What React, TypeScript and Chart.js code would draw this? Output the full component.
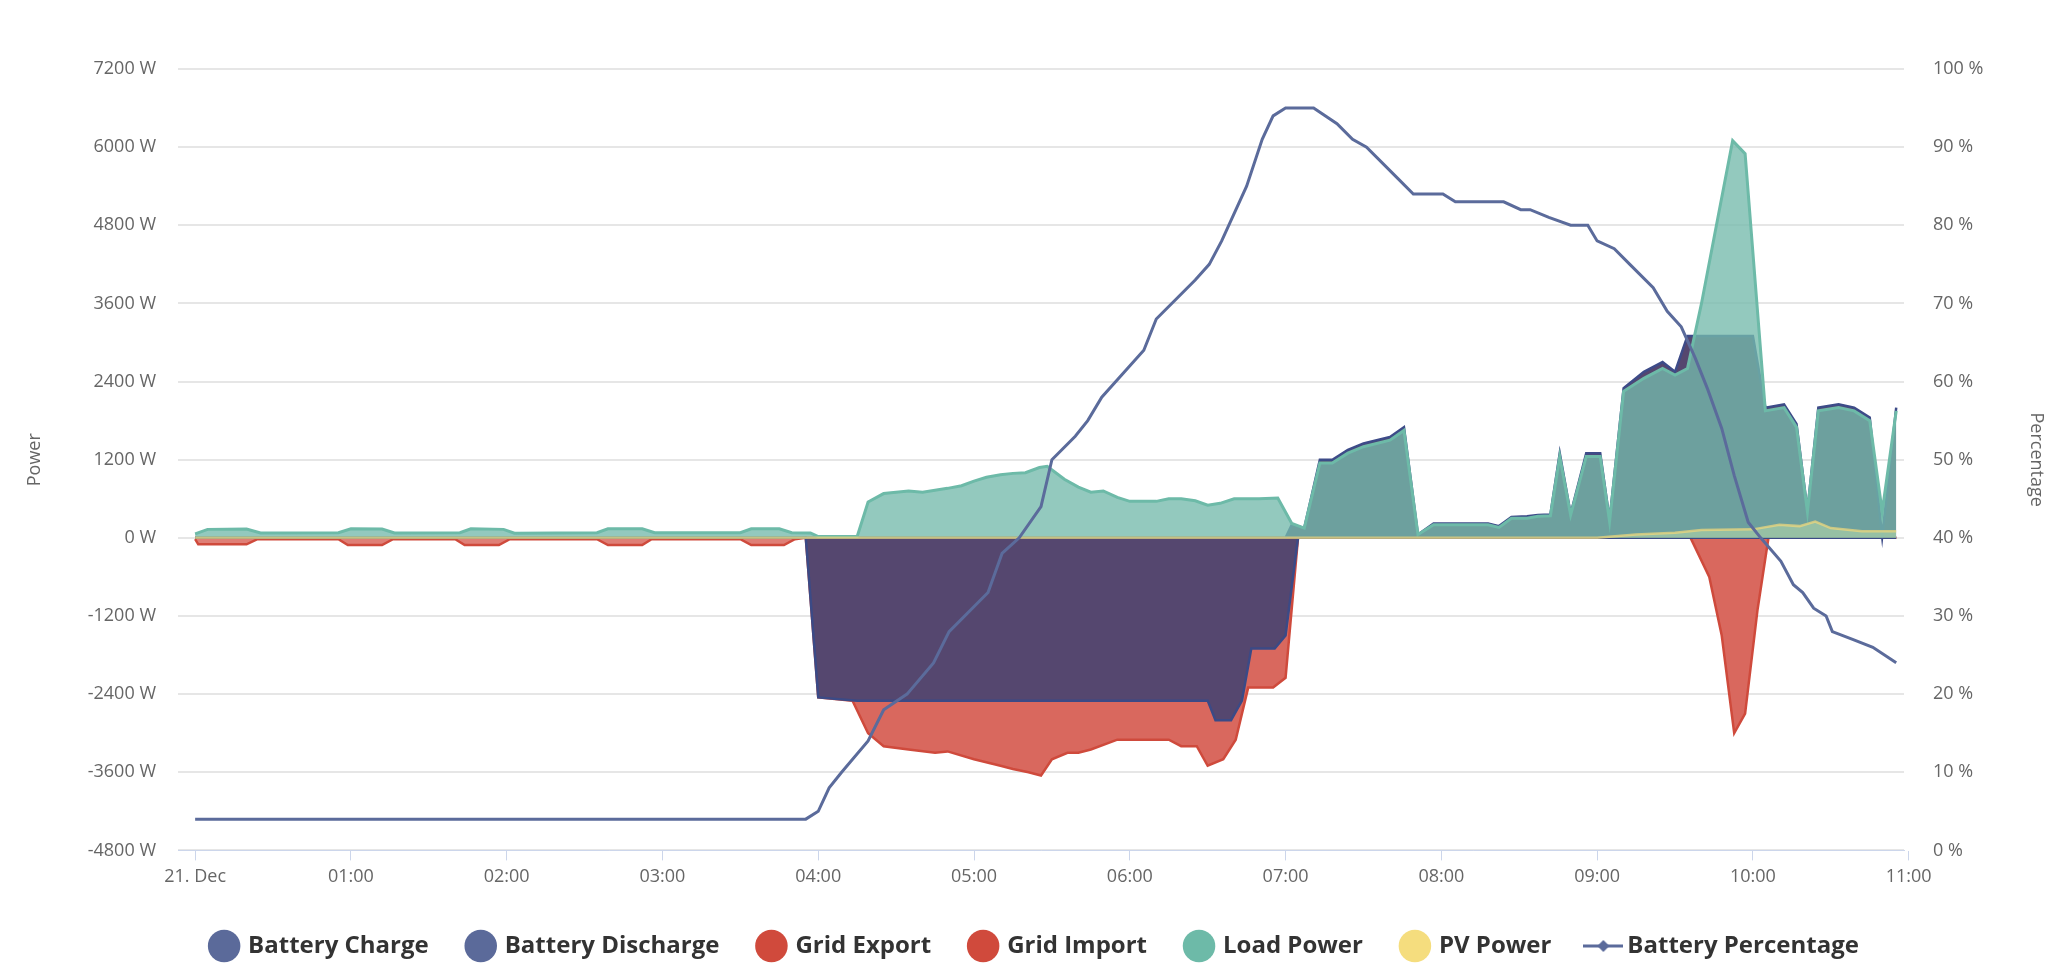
import React, { useEffect, useRef } from "react";
import { Chart, registerables } from "chart.js";
Chart.register(...registerables);

// [hour, value] breakpoints
const batteryCharge: [number, number][] = [[0,0],[3.92,0],[4.0,-2450],[4.25,-2500],[6.5,-2500],[6.55,-2800],[6.65,-2800],[6.72,-2500],[6.78,-1700],[6.93,-1700],[7.0,-1500],[7.08,0],[10.92,0]];
const batteryDischarge: [number, number][] = [[0,0],[7.0,0],[7.04,200],[7.12,150],[7.22,1200],[7.3,1200],[7.4,1350],[7.5,1450],[7.67,1550],[7.76,1700],[7.85,50],[7.95,220],[8.3,220],[8.37,180],[8.45,320],[8.55,330],[8.62,350],[8.7,360],[8.76,1300],[8.83,370],[8.93,1300],[9.02,1300],[9.08,280],[9.17,2300],[9.3,2550],[9.42,2700],[9.5,2550],[9.58,3100],[10.0,3100],[10.08,2000],[10.2,2050],[10.28,1750],[10.35,420],[10.42,2000],[10.55,2050],[10.65,2000],[10.75,1850],[10.83,20],[10.92,2000]];
const gridExport: [number, number][] = [[0,-20],[0.02,-100],[0.33,-100],[0.4,-20],[0.92,-20],[0.98,-110],[1.2,-110],[1.27,-20],[1.67,-20],[1.73,-110],[1.95,-110],[2.02,-20],[2.58,-20],[2.65,-110],[2.87,-110],[2.93,-20],[3.5,-20],[3.57,-110],[3.78,-110],[3.85,-20],[3.92,0],[10.92,0]];
const gridImport: [number, number][] = [[0,0],[3.92,0],[4.0,-2450],[4.22,-2500],[4.32,-3000],[4.42,-3200],[4.58,-3250],[4.75,-3300],[4.83,-3280],[5.0,-3400],[5.17,-3500],[5.25,-3550],[5.35,-3600],[5.43,-3650],[5.5,-3400],[5.6,-3300],[5.67,-3300],[5.75,-3250],[5.92,-3100],[6.25,-3100],[6.33,-3200],[6.43,-3200],[6.5,-3500],[6.6,-3400],[6.68,-3100],[6.76,-2300],[6.92,-2300],[7.0,-2150],[7.08,0],[9.6,0],[9.72,-600],[9.8,-1500],[9.88,-3000],[9.95,-2700],[10.03,-1100],[10.1,0],[10.92,0]];
const loadPower: [number, number][] = [[0,60],[0.08,130],[0.33,135],[0.42,75],[0.92,80],[1.0,140],[1.2,135],[1.28,75],[1.7,80],[1.77,140],[1.98,130],[2.05,70],[2.58,80],[2.65,140],[2.87,140],[2.95,80],[3.5,80],[3.57,140],[3.75,140],[3.83,80],[3.95,75],[4.0,20],[4.25,20],[4.32,550],[4.42,680],[4.58,720],[4.67,700],[4.83,760],[4.92,800],[5.0,870],[5.08,930],[5.17,970],[5.25,990],[5.33,1000],[5.42,1080],[5.47,1100],[5.58,900],[5.67,780],[5.75,700],[5.83,720],[5.92,620],[6.0,560],[6.17,560],[6.25,600],[6.33,600],[6.42,570],[6.5,500],[6.58,530],[6.67,600],[6.83,600],[6.95,610],[7.04,220],[7.12,150],[7.22,1150],[7.3,1150],[7.4,1300],[7.5,1400],[7.67,1500],[7.76,1650],[7.85,50],[7.95,200],[8.3,200],[8.37,160],[8.45,300],[8.55,300],[8.62,330],[8.7,340],[8.76,1250],[8.83,350],[8.93,1250],[9.02,1250],[9.08,250],[9.17,2250],[9.3,2450],[9.42,2600],[9.5,2500],[9.58,2600],[9.67,3600],[9.75,4600],[9.87,6100],[9.95,5900],[10.08,1950],[10.2,2000],[10.28,1700],[10.35,400],[10.42,1950],[10.55,2000],[10.65,1950],[10.75,1800],[10.83,400],[10.92,1950]];
const pvPower: [number, number][] = [[0,0],[9.0,0],[9.25,50],[9.5,80],[9.67,120],[10.0,130],[10.17,200],[10.3,180],[10.4,250],[10.5,150],[10.7,100],[10.92,100]];
const batteryPercentage: [number, number][] = [[0,4],[3.92,4],[4.0,5],[4.07,8],[4.15,10],[4.32,14],[4.42,18],[4.57,20],[4.74,24],[4.84,28],[5.09,33],[5.18,38],[5.29,40],[5.43,44],[5.5,50],[5.65,53],[5.73,55],[5.82,58],[6.09,64],[6.17,68],[6.42,73],[6.51,75],[6.59,78],[6.75,85],[6.85,91],[6.92,94],[7.0,95],[7.18,95],[7.33,93],[7.43,91],[7.52,90],[7.72,86],[7.82,84],[8.01,84],[8.09,83],[8.4,83],[8.51,82],[8.57,82],[8.69,81],[8.83,80],[8.94,80],[9.0,78],[9.11,77],[9.21,75],[9.36,72],[9.45,69],[9.54,67],[9.63,63],[9.71,59],[9.8,54],[9.88,48],[9.97,42],[10.05,40],[10.18,37],[10.26,34],[10.32,33],[10.39,31],[10.47,30],[10.51,28],[10.64,27],[10.77,26],[10.92,24]];
const hourTicks = [0,1,2,3,4,5,6,7,8,9,10,11];
const hourLabels = ["21. Dec","01:00","02:00","03:00","04:00","05:00","06:00","07:00","08:00","09:00","10:00","11:00"];

const pts = (a: [number, number][]) => a.map(([x, y]) => ({ x, y }));
const FONT = "'Open Sans', sans-serif";

export default function App() {
  const ref = useRef<HTMLCanvasElement>(null);
  useEffect(() => {
    const pctIcon = document.createElement("canvas");
    pctIcon.width = 40; pctIcon.height = 16;
    const g = pctIcon.getContext("2d")!;
    g.strokeStyle = "#5b6b9b"; g.lineWidth = 3;
    g.beginPath(); g.moveTo(0, 8); g.lineTo(40, 8); g.stroke();
    g.fillStyle = "#5b6b9b"; g.beginPath(); g.moveTo(20, 2); g.lineTo(26, 8); g.lineTo(20, 14); g.lineTo(14, 8); g.closePath(); g.fill();
    const legendColors = ["#5b6a9a","#5b6a9a","#d04a3c","#d04a3c","#6dbaa8","#f5dd7e",""];
    const chart = new Chart(ref.current!, {
      type: "line",
      data: {
        datasets: [
          { label: "Battery Charge", data: pts(batteryCharge), borderColor: "#3b4a86", backgroundColor: "#55476f", fill: "origin", borderWidth: 2.5, order: 4 },
          { label: "Battery Discharge", data: pts(batteryDischarge), borderColor: "#3d4b88", backgroundColor: "#55476f", fill: "origin", borderWidth: 2.5, order: 3 },
          { label: "Grid Export", data: pts(gridExport), borderColor: "#cf4a3c", backgroundColor: "rgba(217,104,94,0.85)", fill: "origin", borderWidth: 2.5, order: 6 },
          { label: "Grid Import", data: pts(gridImport), borderColor: "#cf4a3c", backgroundColor: "#d9685e", fill: "origin", borderWidth: 2.5, order: 5 },
          { label: "Load Power", data: pts(loadPower), borderColor: "#6dbaa8", backgroundColor: "rgba(117,186,172,0.78)", fill: "origin", borderWidth: 3, order: 2 },
          { label: "PV Power", data: pts(pvPower), borderColor: "rgba(242,217,122,0.7)", backgroundColor: "rgba(200,230,170,0.45)", fill: "origin", borderWidth: 2.5, order: 1 },
          { label: "Battery Percentage", data: pts(batteryPercentage), borderColor: "#5b6b9b", backgroundColor: "#5b6b9b", fill: false, borderWidth: 3, yAxisID: "y1", order: 0 },
        ] as any,
      },
      options: {
        animation: false,
        responsive: false,
        maintainAspectRatio: false,
        elements: { point: { radius: 0 }, line: { tension: 0 } },
        layout: { padding: { top: 69, left: 20, right: 11, bottom: 10 } },
        plugins: {
          tooltip: { enabled: false },
          legend: {
            position: "bottom",
            labels: {
              usePointStyle: true,
              padding: 40,
              boxHeight: 23,
              color: "#333",
              font: { family: FONT, size: 24, weight: "bold" },
              generateLabels: (c: any) => c.data.datasets.map((d: any, i: number) => ({
                text: d.label,
                fillStyle: legendColors[i],
                strokeStyle: legendColors[i],
                lineWidth: 0,
                pointStyle: i === 6 ? pctIcon : "circle",
                datasetIndex: i,
                hidden: false,
                fontColor: "#333",
              })),
            },
          },
        },
        scales: {
          x: {
            type: "linear",
            min: -0.11,
            max: 10.97,
            afterBuildTicks: (ax: any) => { ax.ticks = hourTicks.map((v) => ({ value: v })); },
            ticks: {
              autoSkip: false, maxRotation: 0, color: "#666", padding: 6,
              font: { family: FONT, size: 18 },
              callback: (v: any) => hourLabels[hourTicks.indexOf(Number(v))] ?? "",
            },
            grid: { drawOnChartArea: false, color: "#ccd6eb", tickLength: 10 },
            border: { color: "#ccd6eb" },
          },
          y: {
            position: "left",
            min: -4800, max: 7200,
            ticks: { stepSize: 1200, color: "#666", padding: 22, font: { family: FONT, size: 18 }, callback: (v: any) => `${v} W` },
            grid: { color: "#e6e6e6", lineWidth: 2, drawTicks: false },
            border: { display: false },
            title: { display: true, text: "Power", color: "#666", font: { family: FONT, size: 18 } },
            afterFit: (s: any) => { s.width = 158; },
          },
          y1: {
            position: "right",
            min: 0, max: 100,
            ticks: { stepSize: 10, color: "#666", padding: 29, font: { family: FONT, size: 18 }, callback: (v: any) => `${v} %` },
            grid: { drawOnChartArea: false, drawTicks: false },
            border: { display: false },
            title: { display: true, text: "Percentage", color: "#666", font: { family: FONT, size: 18 } },
            afterFit: (s: any) => { s.width = 147; },
          },
        },
      } as any,
    });
    return () => chart.destroy();
  }, []);
  return (
    <div style={{ position: "fixed", left: 0, top: 0, width: 2062, height: 978, background: "#fff" }}>
      <canvas ref={ref} width={2062} height={978} style={{ width: 2062, height: 978 }} />
    </div>
  );
}
